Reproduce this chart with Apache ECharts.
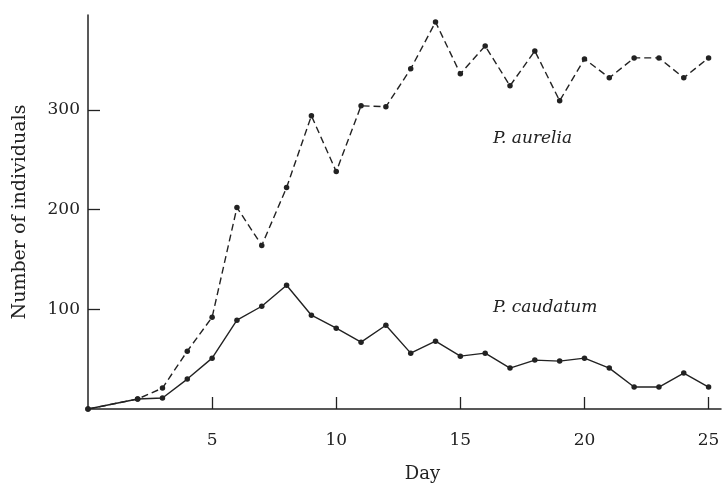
<!DOCTYPE html>
<html><head><meta charset="utf-8">
<script src="https://cdn.jsdelivr.net/npm/echarts@6/dist/echarts.min.js"></script>
<style>html,body{margin:0;padding:0;background:#fff}#c{width:722px;height:485px}</style>
</head><body><div id="c"></div>
<script>
const days = [0,2,3,4,5,6,7,8,9,10,11,12,13,14,15,16,17,18,19,20,21,22,23,24,25];
const aurelia = [0,10,21,58,92,202,164,222,294,238,304,303,341,388,336,364,324,359,309,351,332,352,352,332,352];
const caudatum = [0,10,11,30,51,89,103,124,94,81,67,84,56,68,53,56,41,49,48,51,41,22,22,36,22];
const xTicks = [5,10,15,20,25];
const yTicks = [100,200,300];
const FONT = '"DejaVu Serif", "Liberation Serif", serif';
const INK = '#222';

const chart = echarts.init(document.getElementById('c'));
chart.setOption({
  animation:false,
  backgroundColor:'#fff',
  grid:{left:88,right:1,top:15,bottom:76,outerBoundsMode:'none',containLabel:false},
  xAxis:{type:'value',min:0,max:25.5,
    name:'Day',nameLocation:'middle',nameGap:56,
    nameTextStyle:{fontFamily:FONT,fontSize:18,color:INK,padding:[0,0,0,36]},
    axisLine:{lineStyle:{color:INK,width:1.5}},
    axisTick:{inside:true,length:12,customValues:xTicks,lineStyle:{color:INK,width:1.3}},
    axisLabel:{customValues:xTicks,margin:23,fontFamily:FONT,fontSize:17,color:INK},
    splitLine:{show:false}},
  yAxis:{type:'value',min:0,max:395,
    name:'Number of individuals',nameLocation:'middle',nameGap:58,
    nameTextStyle:{fontFamily:FONT,fontSize:19,color:INK},
    axisLine:{show:true,lineStyle:{color:INK,width:1.5}},
    axisTick:{show:true,inside:true,length:12,customValues:yTicks,lineStyle:{color:INK,width:1.3}},
    axisLabel:{customValues:yTicks,margin:8,fontFamily:FONT,fontSize:17,color:INK},
    splitLine:{show:false}},
  series:[
    {name:'P. aurelia',type:'line',data:days.map((d,i)=>[d,aurelia[i]]),
      symbol:'circle',symbolSize:5.5,itemStyle:{color:INK},
      lineStyle:{color:INK,width:1.4,type:[7,4]}},
    {name:'P. caudatum',type:'line',data:days.map((d,i)=>[d,caudatum[i]]),
      symbol:'circle',symbolSize:5.5,itemStyle:{color:INK},
      lineStyle:{color:INK,width:1.4,type:'solid'}}
  ],
  graphic:[
    {type:'text',left:493,top:130,style:{text:'P. aurelia',font:'italic 17px '+FONT,fill:INK}},
    {type:'text',left:493,top:299,style:{text:'P. caudatum',font:'italic 17px '+FONT,fill:INK}}
  ]
});
</script></body></html>
